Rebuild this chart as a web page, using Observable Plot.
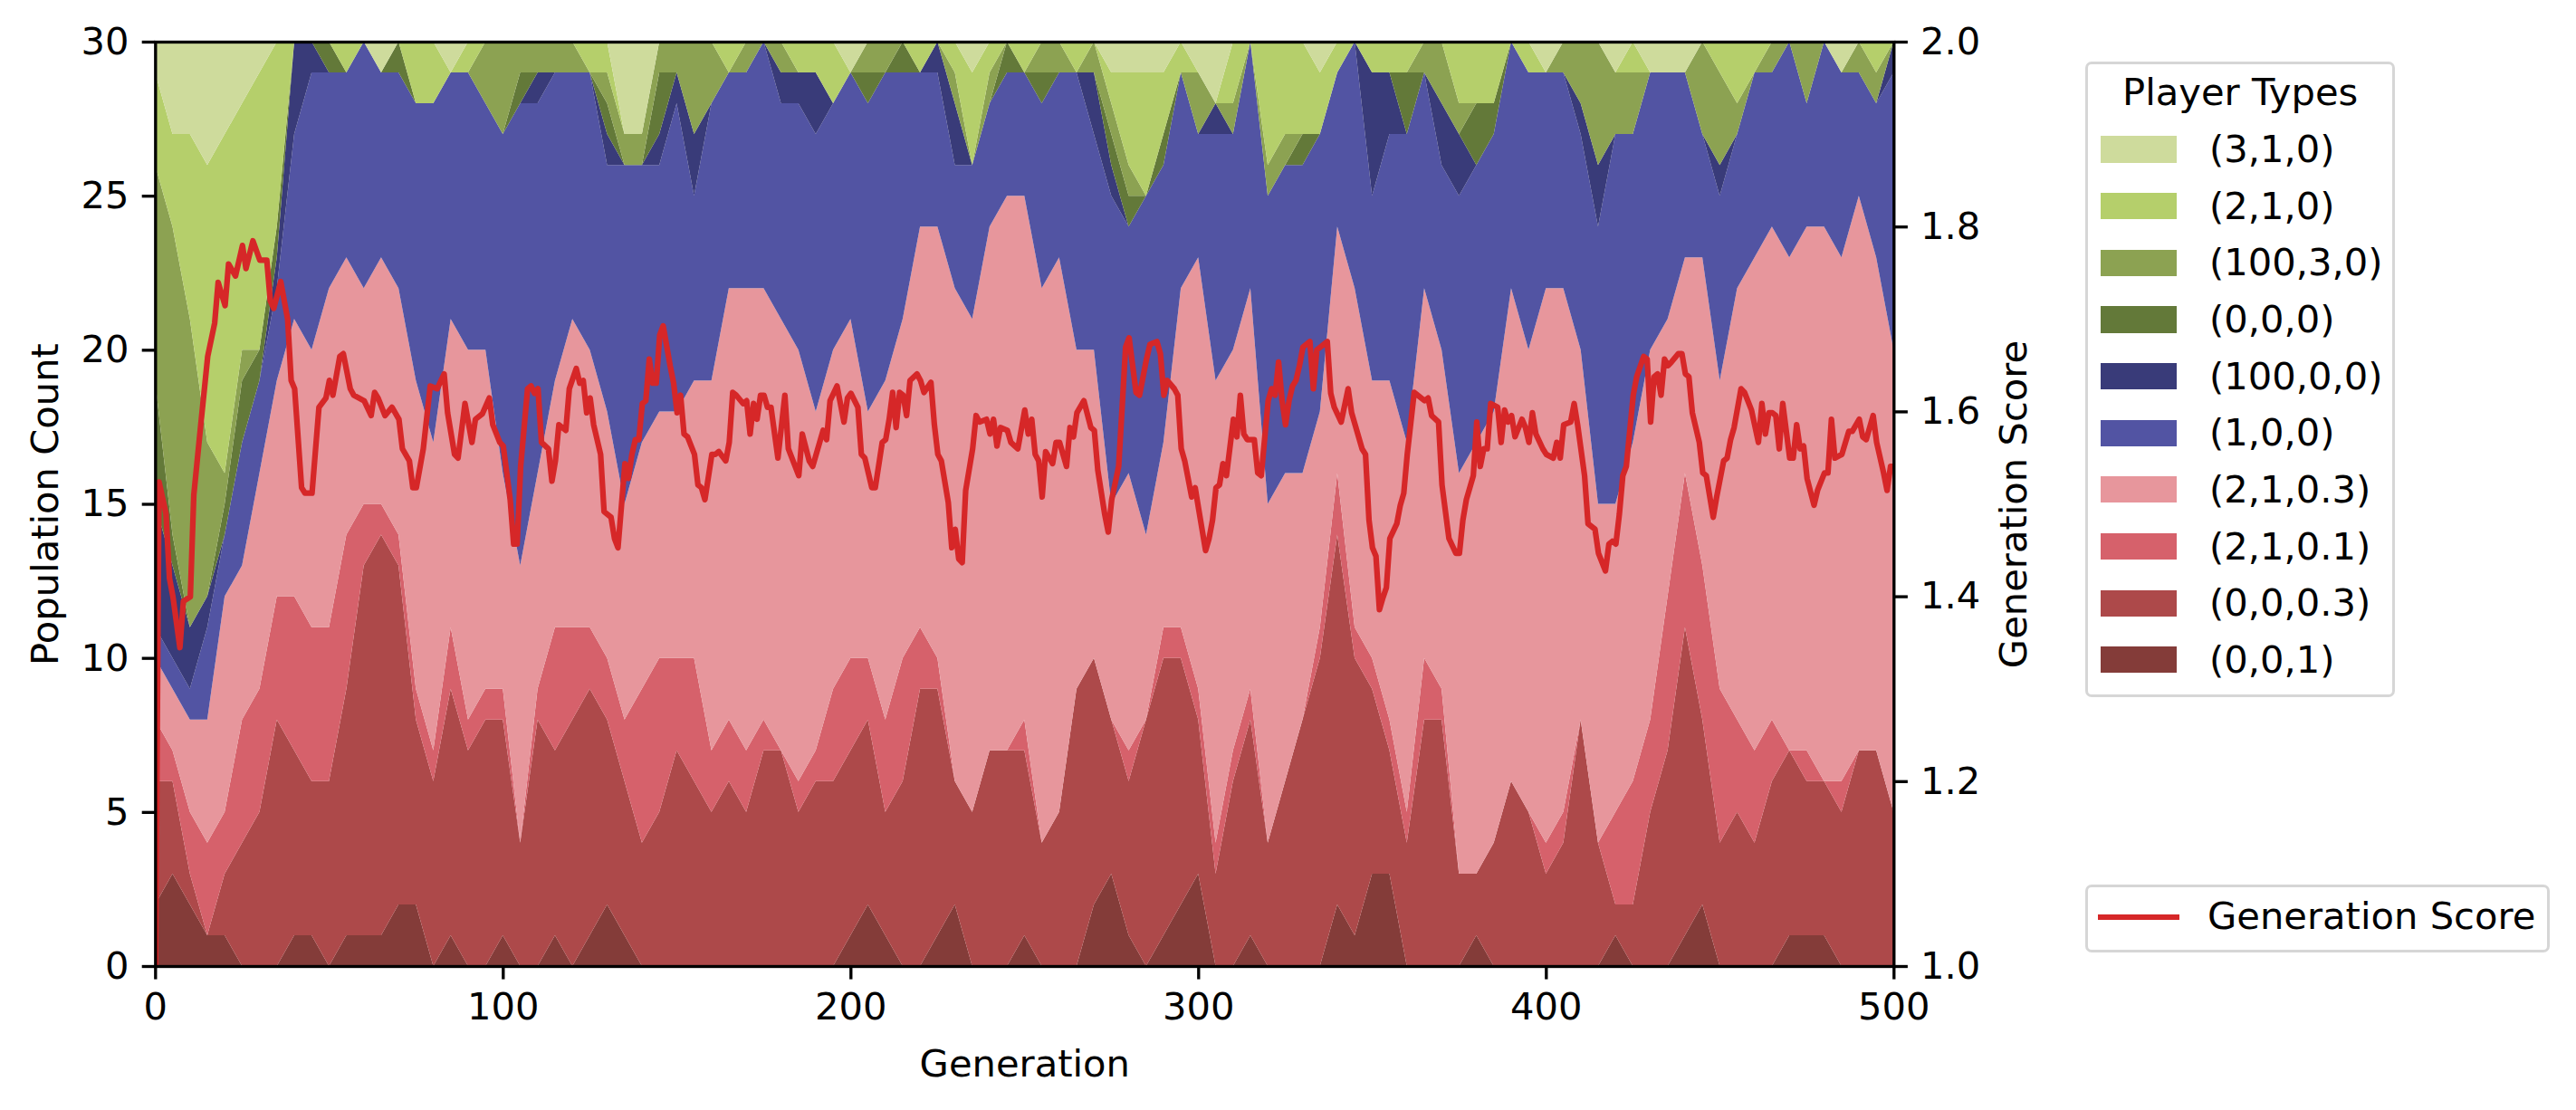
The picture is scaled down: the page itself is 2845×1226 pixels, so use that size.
<!DOCTYPE html>
<html>
<head>
<meta charset="utf-8">
<script src="https://cdn.jsdelivr.net/npm/d3@7"></script>
<script src="https://cdn.jsdelivr.net/npm/@observablehq/plot@0.6"></script>
<style>
html, body { margin: 0; padding: 0; background: #fff; }
#wrap { position: relative; width: 2845px; height: 1226px; font-family: "DejaVu Sans", sans-serif; color: #000; overflow: hidden; }
#wrap svg { position: absolute; left: 0; top: 0; }
.legbox { position: absolute; box-sizing: border-box; border: 3.3px solid #d6d6d6; border-radius: 7px; background: rgba(255,255,255,0.8); }
.legtxt { position: absolute; font-size: 41.67px; line-height: 50px; height: 50px; white-space: nowrap; color: #000; }
.legsw { position: absolute; width: 84px; height: 29.2px; }
</style>
</head>
<body>
<div id="wrap"></div>
<script>
// ---------- data ----------
// stacking order bottom -> top
const playerTypes = ["(0,0,1)", "(0,0,0.3)", "(2,1,0.1)", "(2,1,0.3)", "(1,0,0)", "(100,0,0)", "(0,0,0)", "(100,3,0)", "(2,1,0)", "(3,1,0)"];
const typeColors = ["#843c39", "#ad494a", "#d6616b", "#e7969c", "#5254a3", "#393b79", "#637939", "#8ca252", "#b5cf6b", "#cedb9c"];

// generations sampled every 5 (0..500)
const generations = d3.range(0, 501, 5);

const count_0_0_1 = [
  2,3,2,1,1,0,0,0,1,1,0,1,1,1,2,2,0,1,0,0,1,
  0,0,1,0,1,2,1,0,0,0,0,0,0,0,0,0,0,0,0,1,
  2,1,0,0,1,2,0,0,0,1,0,0,0,2,3,1,0,1,2,3,
  0,0,1,0,0,0,0,2,1,3,3,0,0,0,0,1,0,0,0,0,
  0,0,0,1,0,0,0,1,2,0,0,0,0,1,1,1,0,0,0,0
];
const count_0_0_03 = [
  4,3,1,0,2,4,5,8,6,5,6,8,12,13,11,6,6,8,7,8,7,
  4,8,6,8,8,6,5,4,5,7,6,5,6,5,7,7,5,6,6,6,
  6,4,6,9,8,4,5,7,7,6,4,5,9,8,5,5,8,9,8,5,
  3,6,7,4,6,8,10,12,9,6,4,4,8,8,3,2,4,6,5,3,
  4,8,4,1,2,5,7,10,6,4,5,4,6,6,5,5,5,7,7,5
];
const count_2_1_01 = [
  2,1,2,3,2,4,4,4,5,5,5,5,2,1,1,1,1,2,1,1,1,
  0,1,4,3,2,2,2,5,5,3,4,2,2,2,1,0,1,1,3,3,
  2,3,4,2,1,0,0,0,0,1,0,0,0,0,0,1,0,1,1,1,
  1,1,1,0,0,0,1,2,1,1,1,1,2,1,0,0,0,0,0,1,
  1,0,0,3,4,3,5,5,5,5,3,3,2,0,1,0,1,0,0,0
];
const count_2_1_03 = [
  2,2,3,4,7,5,7,7,9,9,11,9,7,8,8,10,10,10,12,11,7,
  9,7,8,10,9,8,7,8,8,8,9,12,14,15,14,14,14,11,11,11,
  8,11,11,13,14,16,16,17,18,17,18,18,11,10,7,9,6,6,11,14,
  15,13,13,11,10,8,7,8,11,9,11,12,12,11,13,14,14,16,15,18,
  17,12,11,10,11,12,9,7,10,10,14,16,16,16,17,18,17,18,16,15
];
const count_1_0_0 = [
  1,1,1,3,2,4,3,3,6,9,7,6,8,6,7,9,11,8,9,8,11,
  15,12,10,8,9,8,11,9,8,10,6,9,7,7,8,7,8,9,8,8,
  10,10,8,5,5,4,5,4,4,4,6,6,9,7,10,8,11,9,7,4,
  8,7,8,10,10,10,9,5,8,6,8,10,7,6,9,9,9,8,9,7,
  7,7,9,12,10,9,8,6,4,6,5,6,5,7,4,6,6,4,5,9
];
const count_100_0_0 = [
  4,3,2,1,0,0,0,1,3,1,0,0,0,0,0,0,0,0,0,0,0,
  0,1,0,0,0,1,0,0,1,1,2,0,0,0,0,1,1,2,0,0,
  0,0,0,0,1,2,0,0,0,0,0,0,0,2,1,0,0,0,0,0,
  1,0,0,0,0,0,0,0,0,4,2,0,0,2,2,0,0,0,0,0,
  0,1,2,0,0,0,0,0,0,1,0,0,0,0,0,0,0,0,0,1
];
const count_0_0_0 = [
  4,1,0,0,1,2,1,1,0,0,1,0,0,0,1,0,0,0,0,0,0,
  1,0,0,0,0,1,0,0,2,0,0,0,0,0,0,0,0,0,0,0,
  1,0,1,0,0,0,0,0,1,0,1,0,0,0,1,1,0,1,0,0,
  0,0,0,0,0,1,0,0,0,0,0,2,0,0,0,2,1,0,0,0,
  0,0,0,0,0,0,0,0,0,0,0,0,0,0,0,0,0,0,0,0
];
const count_100_3_0 = [
  7,10,10,5,1,1,0,0,0,0,0,0,0,0,0,0,0,0,0,2,3,
  1,1,1,1,0,1,1,1,1,1,3,2,0,1,0,1,0,0,0,0,
  1,1,0,0,0,1,0,1,0,0,1,1,0,1,1,1,0,0,0,2,
  0,1,0,1,1,0,0,0,0,0,0,0,1,2,1,0,0,0,0,0,
  1,2,4,2,2,0,0,0,3,3,1,0,1,0,2,0,0,1,1,0
];
const count_2_1_0 = [
  3,3,6,9,11,8,9,6,0,0,0,1,0,0,0,2,2,0,1,0,0,
  0,0,0,0,1,1,0,0,0,0,0,0,1,0,0,0,1,1,2,0,
  0,0,0,1,0,1,3,1,0,1,0,0,1,0,1,3,4,2,1,0,
  0,2,0,4,3,3,2,1,0,1,1,1,0,0,2,2,2,0,1,0,
  0,0,0,0,1,0,0,0,0,1,2,1,0,0,0,0,0,0,1,0
];
const count_3_1_0 = [
  1,3,3,4,3,2,1,0,0,0,0,0,0,1,0,0,0,1,0,0,0,
  0,0,0,0,0,0,3,3,0,0,0,0,0,0,0,0,0,0,0,1,
  0,0,0,0,0,0,1,0,0,0,0,0,0,0,1,1,1,1,0,1,
  2,0,0,0,0,0,1,0,0,0,0,0,0,0,0,0,0,0,0,1,
  0,0,0,1,0,1,1,1,0,0,0,0,0,0,0,0,1,0,0,0
];
const seriesCounts = [count_0_0_1, count_0_0_03, count_2_1_01, count_2_1_03, count_1_0_0,
                      count_100_0_0, count_0_0_0, count_100_3_0, count_2_1_0, count_3_1_0];

// generation score: [generation, score]
const generationScore = [
  [0,1.0],[1,1.524],[3,1.49],[4,1.42],[5,1.40],[7,1.345],[8,1.395],[10,1.40],[11,1.51],[13,1.586],
  [15,1.66],[17,1.696],[18,1.74],[20,1.715],[21,1.76],[23,1.747],[25,1.78],[26,1.755],[28,1.785],[30,1.764],
  [32,1.764],[33,1.72],[34,1.712],[36,1.741],[38,1.70],[39,1.634],[40,1.625],[42,1.518],[43,1.512],[45,1.512],
  [47,1.605],[49,1.615],[50,1.634],[51,1.618],[53,1.66],[54,1.663],[56,1.625],[57,1.618],[60,1.612],[62,1.596],
  [63,1.621],[64,1.615],[66,1.596],[68,1.605],[70,1.592],[71,1.56],[73,1.547],[74,1.518],[75,1.518],[77,1.56],
  [79,1.628],[81,1.625],[83,1.641],[84,1.599],[86,1.554],[87,1.55],[89,1.609],[91,1.567],[92,1.592],[94,1.598],
  [96,1.615],[97,1.586],[99,1.567],
  [100,1.563],[102,1.505],[103,1.457],[104,1.457],[105,1.541],[107,1.625],[108,1.628],[109,1.62],[110,1.625],[111,1.567],
  [113,1.56],[114,1.525],[115,1.547],[116,1.586],[118,1.58],[119,1.625],[121,1.647],[122,1.631],[123,1.634],[124,1.599],
  [125,1.615],[126,1.586],[128,1.554],[129,1.492],[131,1.486],[132,1.463],[133,1.453],[135,1.544],[136,1.528],[137,1.554],
  [138,1.57],[139,1.57],[140,1.609],[141,1.612],[142,1.657],[143,1.631],[144,1.631],[145,1.683],[146,1.693],[148,1.65],
  [149,1.631],[150,1.599],[151,1.618],[152,1.576],[153,1.573],[155,1.554],[156,1.521],[157,1.518],[158,1.505],[160,1.554],
  [161,1.554],[162,1.557],[164,1.547],[165,1.567],[166,1.621],[167,1.618],[169,1.609],[170,1.612],[171,1.576],[172,1.609],
  [173,1.592],[174,1.618],[175,1.618],[176,1.605],[177,1.605],[179,1.55],[181,1.618],[182,1.56],[185,1.531],[186,1.576],
  [188,1.547],[189,1.541],[192,1.58],[193,1.57],[194,1.612],[196,1.628],[198,1.589],[199,1.615],
  [200,1.62],[202,1.605],[203,1.554],[204,1.55],[205,1.534],[206,1.518],[207,1.518],[209,1.567],[210,1.57],[211,1.592],
  [212,1.621],[213,1.583],[214,1.621],[215,1.618],[216,1.596],[217,1.634],[219,1.641],[220,1.634],[221,1.621],[223,1.632],
  [224,1.586],[225,1.554],[226,1.547],[228,1.502],[229,1.453],[230,1.473],[231,1.441],[232,1.437],[233,1.515],[235,1.56],
  [236,1.596],[237,1.589],[239,1.592],[240,1.576],[241,1.592],[242,1.563],[243,1.583],[245,1.58],[246,1.567],[248,1.56],
  [250,1.602],[251,1.576],[252,1.592],[253,1.554],[254,1.547],[255,1.508],[256,1.557],[258,1.544],[259,1.567],[260,1.567],
  [262,1.541],[263,1.583],[264,1.573],[265,1.599],[267,1.612],[269,1.583],[270,1.58],[271,1.537],[273,1.489],[274,1.47],
  [275,1.505],[277,1.541],[278,1.605],[279,1.67],[280,1.68],[282,1.621],[283,1.618],[285,1.657],[286,1.673],[288,1.676],
  [289,1.663],[290,1.618],[291,1.634],[293,1.625],[294,1.618],[295,1.56],[296,1.547],[298,1.508],[299,1.518],
  [300,1.495],[302,1.45],[303,1.463],[304,1.483],[305,1.518],[306,1.521],[307,1.544],[308,1.531],[310,1.592],[311,1.573],
  [312,1.618],[313,1.576],[314,1.57],[316,1.57],[317,1.534],[318,1.531],[320,1.612],[321,1.625],[322,1.618],[323,1.654],
  [324,1.612],[325,1.586],[326,1.612],[327,1.628],[328,1.634],[329,1.65],[330,1.67],[332,1.676],[333,1.625],[334,1.667],
  [335,1.67],[337,1.676],[338,1.62],[339,1.605],[341,1.589],[343,1.625],[344,1.599],[345,1.586],[347,1.56],[348,1.554],
  [349,1.483],[350,1.453],[351,1.444],[352,1.386],[353,1.399],[354,1.41],[355,1.463],[357,1.479],[358,1.499],[359,1.512],
  [360,1.554],[362,1.621],[363,1.618],[365,1.612],[366,1.615],[367,1.596],[369,1.589],[370,1.521],[372,1.463],[374,1.447],
  [375,1.447],[376,1.483],[377,1.505],[379,1.531],[380,1.589],[381,1.541],[382,1.56],[383,1.56],[384,1.609],[386,1.605],
  [387,1.567],[388,1.602],[389,1.589],[390,1.596],[391,1.573],[393,1.592],[394,1.583],[395,1.567],[396,1.599],[397,1.576],
  [399,1.56],
  [400,1.554],[402,1.55],[403,1.567],[404,1.55],[405,1.586],[407,1.589],[408,1.609],[409,1.586],[411,1.531],[412,1.479],
  [414,1.473],[415,1.447],[417,1.428],[418,1.457],[419,1.46],[420,1.457],[421,1.489],[422,1.531],[423,1.541],[425,1.618],
  [426,1.638],[428,1.66],[429,1.657],[430,1.589],[431,1.638],[432,1.641],[433,1.618],[434,1.657],[435,1.65],[436,1.654],
  [438,1.663],[439,1.663],[440,1.641],[441,1.638],[442,1.599],[444,1.567],[445,1.534],[446,1.531],[448,1.486],[449,1.508],
  [451,1.547],[452,1.55],[453,1.57],[454,1.583],[456,1.625],[457,1.621],[459,1.602],[461,1.567],[462,1.609],[463,1.576],
  [464,1.599],[465,1.599],[466,1.596],[467,1.56],[468,1.609],[470,1.55],[471,1.55],[472,1.586],[473,1.56],[474,1.563],
  [475,1.528],[477,1.499],[478,1.515],[480,1.534],[481,1.534],[482,1.592],[483,1.55],[485,1.554],[487,1.579],[488,1.579],
  [490,1.592],[491,1.573],[492,1.57],[494,1.596],[495,1.567],[497,1.534],[498,1.515],[499,1.541],[500,1.541]
];

const xTicks = [0, 100, 200, 300, 400, 500];
const yTicks = [0, 5, 10, 15, 20, 25, 30];
const scoreTicks = [1.0, 1.2, 1.4, 1.6, 1.8, 2.0];

// ---------- layout ----------
const W = 2845, H = 1226;
const ML = 171.3, MR = W - 2091.3, MT = 46, MB = H - 1067;
const FS = 41.67;
const TICK = 14.6, PAD = 14.6, LW = 3.33;
const baseStyle = { fontFamily: "DejaVu Sans", fontSize: FS + "px", color: "#000", background: "transparent", overflow: "visible" };

const rows = [];
playerTypes.forEach((t, i) => {
  generations.forEach((g, j) => rows.push({ gen: g, type: t, count: seriesCounts[i][j] }));
});

const areaPlot = Plot.plot({
  width: W, height: H,
  marginLeft: ML, marginRight: MR, marginTop: MT, marginBottom: MB,
  style: baseStyle,
  x: { domain: [0, 500] },
  y: { domain: [0, 30] },
  color: { domain: playerTypes, range: typeColors },
  marks: [
    Plot.areaY(rows, { x: "gen", y: "count", fill: "type", z: "type", order: playerTypes, curve: "linear" }),
    Plot.axisX({ ticks: xTicks, tickSize: TICK, tickPadding: PAD, strokeWidth: LW, label: null, fontSize: FS }),
    Plot.axisY({ ticks: yTicks, tickSize: TICK, tickPadding: PAD, strokeWidth: LW, label: null, fontSize: FS, anchor: "left" }),
    Plot.text(["Generation"], { text: d => d, frameAnchor: "bottom", dy: 121, lineAnchor: "bottom", textAnchor: "middle", fontSize: FS }),
    Plot.text(["Population Count"], { text: d => d, frameAnchor: "left", dx: -108.3, rotate: -90, lineAnchor: "bottom", textAnchor: "middle", fontSize: FS })
  ]
});

const scorePlot = Plot.plot({
  width: W, height: H,
  marginLeft: ML, marginRight: MR, marginTop: MT, marginBottom: MB,
  style: baseStyle,
  x: { domain: [0, 500], axis: null },
  y: { domain: [1, 2] },
  marks: [
    Plot.line(generationScore, { x: d => d[0], y: d => d[1], stroke: "#d62728", strokeWidth: 6.25, strokeLinejoin: "round", clip: true }),
    Plot.axisY({ anchor: "right", ticks: scoreTicks, tickFormat: d3.format(".1f"), tickSize: TICK, tickPadding: PAD, strokeWidth: LW, label: null, fontSize: FS }),
    Plot.text(["Generation Score"], { text: d => d, frameAnchor: "right", dx: 145.7, rotate: -90, lineAnchor: "bottom", textAnchor: "middle", fontSize: FS }),
    Plot.frame({ stroke: "#000", strokeWidth: LW })
  ]
});

const wrap = document.getElementById("wrap");
wrap.appendChild(areaPlot);
wrap.appendChild(scorePlot);

// ---------- legends (HTML) ----------
function el(cls, css, text) {
  const d = document.createElement("div");
  d.className = cls;
  Object.assign(d.style, css);
  if (text != null) d.textContent = text;
  wrap.appendChild(d);
  return d;
}
// Player Types legend
el("legbox", { left: "2303.3px", top: "68px", width: "341.7px", height: "702px" });
el("legtxt", { left: "2303.3px", top: "77px", width: "341.7px", textAlign: "center" }, "Player Types");
const legendOrder = playerTypes.slice().reverse();
const legendColors = typeColors.slice().reverse();
legendOrder.forEach((t, i) => {
  const cy = 165 + i * 62.65;
  el("legsw", { left: "2320px", top: (cy - 14.6) + "px", background: legendColors[i] });
  el("legtxt", { left: "2440px", top: (cy - 25) + "px" }, t);
});
// Generation Score legend
el("legbox", { left: "2303.3px", top: "977px", width: "512.7px", height: "75px" });
el("legsw", { left: "2316.7px", top: (1012.8 - 3.1) + "px", width: "90.6px", height: "6.25px", background: "#d62728" });
el("legtxt", { left: "2438px", top: "987px" }, "Generation Score");
</script>
</body>
</html>
